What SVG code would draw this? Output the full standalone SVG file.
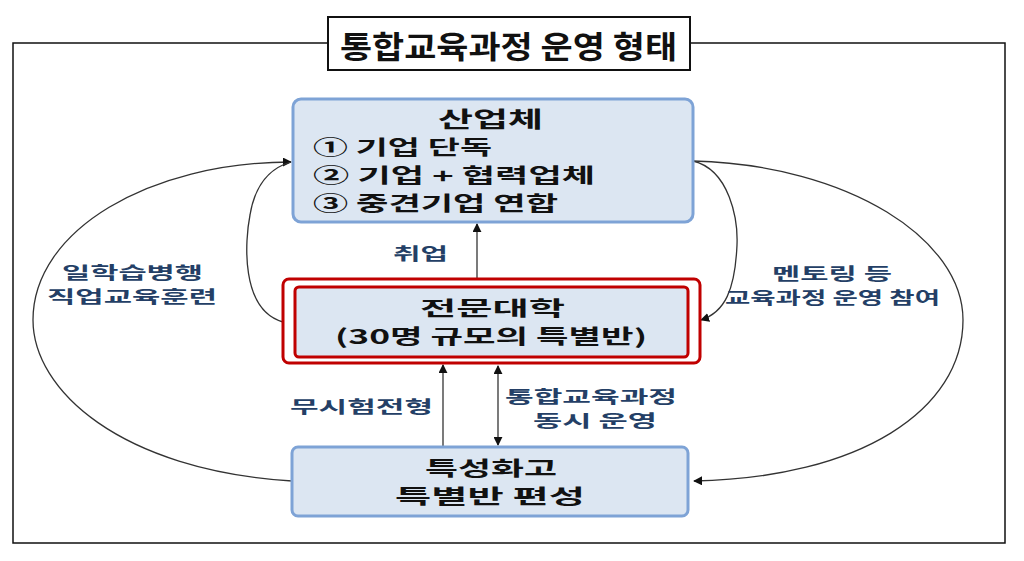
<svg xmlns="http://www.w3.org/2000/svg" width="1024" height="561" viewBox="0 0 1024 561">
<style>
.t{font-family:"Noto Sans CJK KR","Noto Sans",sans-serif;font-weight:bold;fill:#111}
.l{font-family:"Noto Sans CJK KR","Noto Sans",sans-serif;font-weight:bold;fill:#243f66;font-size:17px}
.box{fill:#dce6f2;stroke:#7ea3d6;stroke-width:3}
.red{fill:none;stroke:#c00000;stroke-width:3}
.c{fill:none;stroke:#333;stroke-width:1.3}
</style>
<defs>
<marker id="ah" viewBox="0 0 10 10" refX="9" refY="5" markerWidth="9" markerHeight="9" markerUnits="userSpaceOnUse" orient="auto-start-reverse">
<path d="M0,0 L10,5 L0,10 z" fill="#111"/>
</marker>
</defs>
<rect width="1024" height="561" fill="#fff"/>
<g id="frame">
<path d="M328,43 H13 V543 H1005 V43 H690" fill="none" stroke="#111" stroke-width="1.5"/>
</g>
<g id="title">
<rect x="328" y="17" width="362" height="53" fill="#fff" stroke="#111" stroke-width="2"/>
<text class="t" x="340" y="58" font-size="31" textLength="337" lengthAdjust="spacingAndGlyphs">통합교육과정 운영 형태</text>
</g>
<g id="connectors">
<path class="c" d="M292,481 C120,470 33,390 33,320 C33,230 150,162 291,162" marker-end="url(#ah)"/>
<path class="c" d="M283,322 C240,310 245,240 250,215 C255,185 270,168 291,162" />
<path class="c" d="M693,161 C850,165 963,240 963,320 C963,410 860,478 694,481" marker-end="url(#ah)"/>
<path class="c" d="M693,161 C730,170 738,220 737,245 C735,290 725,312 701,320" marker-end="url(#ah)"/>
<path class="c" d="M477,279 V224" marker-end="url(#ah)"/>
<path class="c" d="M443,447 V365" marker-end="url(#ah)"/>
<path class="c" d="M498,366 V445" marker-start="url(#ah)" marker-end="url(#ah)"/>
</g>
<g id="industry">
<rect class="box" x="293" y="99" width="400" height="123" rx="8"/>
<text class="t" x="438" y="127" font-size="22" textLength="105" lengthAdjust="spacingAndGlyphs">산업체</text>
<text class="t" x="313" y="155" font-size="20" textLength="179" lengthAdjust="spacingAndGlyphs">① 기업 단독</text>
<text class="t" x="313" y="183" font-size="20" textLength="282" lengthAdjust="spacingAndGlyphs">② 기업 + 협력업체</text>
<text class="t" x="313" y="211" font-size="20" textLength="245" lengthAdjust="spacingAndGlyphs">③ 중견기업 연합</text>
</g>
<g id="college">
<rect class="red" x="283" y="279" width="417" height="84" rx="6"/>
<rect x="295" y="287" width="393" height="70" rx="4" fill="#dce6f2" stroke="#c00000" stroke-width="3"/>
<text class="t" x="420" y="316" font-size="20" textLength="145" lengthAdjust="spacingAndGlyphs">전문대학</text>
<text class="t" x="335" y="344" font-size="20" textLength="312" lengthAdjust="spacingAndGlyphs">(30명 규모의 특별반)</text>
</g>
<g id="school">
<rect class="box" x="292" y="447" width="396" height="69" rx="6"/>
<text class="t" x="425" y="476" font-size="20" textLength="132" lengthAdjust="spacingAndGlyphs">특성화고</text>
<text class="t" x="395" y="504" font-size="20" textLength="190" lengthAdjust="spacingAndGlyphs">특별반 편성</text>
</g>
<g id="labels">
<text class="l" x="393" y="260" textLength="55" lengthAdjust="spacingAndGlyphs">취업</text>
<text class="l" x="290" y="413" textLength="143" lengthAdjust="spacingAndGlyphs">무시험전형</text>
<text class="l" x="505" y="403" textLength="172" lengthAdjust="spacingAndGlyphs">통합교육과정</text>
<text class="l" x="533" y="427" textLength="124" lengthAdjust="spacingAndGlyphs">동시 운영</text>
<text class="l" x="62" y="279" textLength="141" lengthAdjust="spacingAndGlyphs">일학습병행</text>
<text class="l" x="47" y="303" textLength="170" lengthAdjust="spacingAndGlyphs">직업교육훈련</text>
<text class="l" x="772" y="280" textLength="120" lengthAdjust="spacingAndGlyphs">멘토링 등</text>
<text class="l" x="725" y="304" textLength="215" lengthAdjust="spacingAndGlyphs">교육과정 운영 참여</text>
</g>
</svg>
